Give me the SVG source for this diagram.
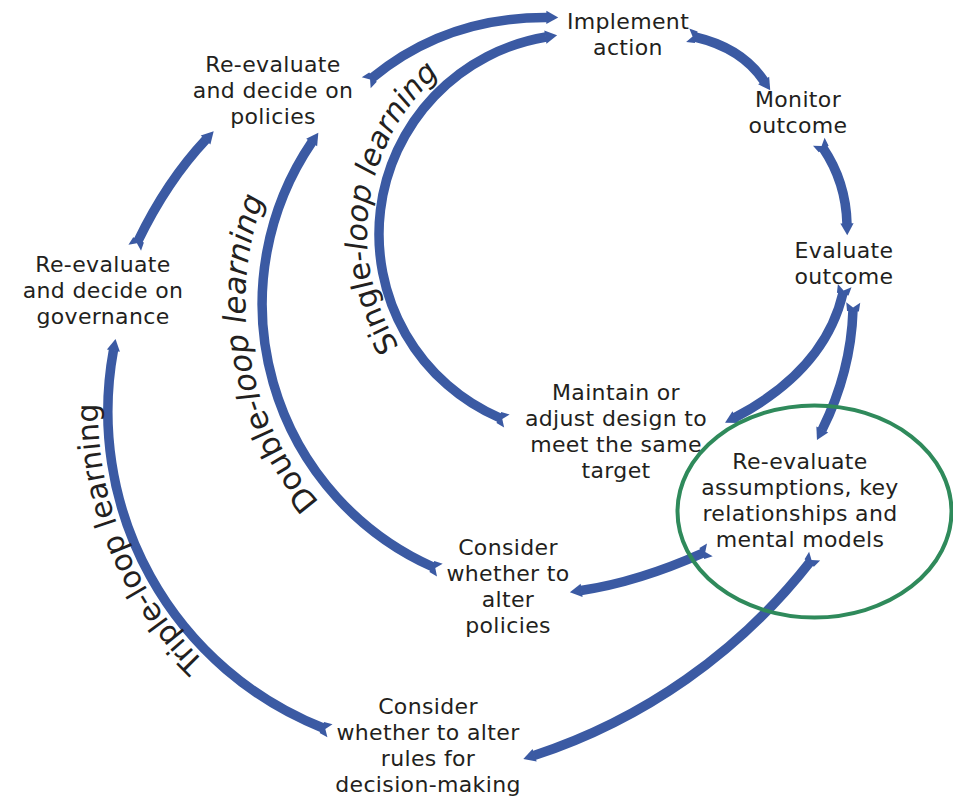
<svg xmlns="http://www.w3.org/2000/svg" width="953" height="799" viewBox="0 0 953 799">
<defs>
<style>
.n text{font-family:"DejaVu Sans","Liberation Sans",sans-serif;font-size:22px;letter-spacing:0.35px;fill:#231f20;text-anchor:middle}
.loop{font-family:"DejaVu Sans","Liberation Sans",sans-serif;font-size:30px;fill:#231f20}
.it{font-style:italic}
.arr{fill:none;stroke:#3b5aa3;stroke-width:9.5;stroke-linecap:butt;marker-start:url(#tail);marker-end:url(#head)}
</style>
<marker id="head" markerUnits="userSpaceOnUse" orient="auto" markerWidth="20" markerHeight="20" refX="0" refY="0" viewBox="-2 -8 16 16" overflow="visible">
<path d="M-0.5,-5.3 L9,0 L-0.5,5.3 Z" fill="#3b5aa3"/>
</marker>
<marker id="tail" markerUnits="userSpaceOnUse" orient="auto" markerWidth="20" markerHeight="20" refX="0" refY="0" viewBox="-10 -8 16 16" overflow="visible">
<path d="M1,-4.75 L-6,-5.6 L-2,0 L-6,5.6 L1,4.75 Z" fill="#3b5aa3"/>
</marker>
<path id="p-single" d="M399.4,346.9 A213,213 0 0 1 473.5,49.5"/>
<path id="p-double" d="M319.5,502.4 A305,305 0 0 1 273.6,175.1"/>
<path id="p-triple" d="M204.7,661.8 A350,350 0 0 1 103.3,349.2"/>
</defs>
<rect width="953" height="799" fill="#ffffff"/>

<g id="connectors">
<path id="e-policies-implement" class="arr" d="M372,78 Q446,17 547,17.5"/>
<path id="e-single-loop" class="arr" d="M500,418 A200,200 0 0 1 546,37"/>
<path id="e-implement-monitor" class="arr" d="M695,37 Q742,48 764,81"/>
<path id="e-monitor-evaluate" class="arr" d="M823,148 Q846,182 847,224"/>
<path id="e-evaluate-maintain" class="arr" d="M843,293 Q825,370 735,417.5"/>
<path id="e-evaluate-assumptions" class="arr" d="M853,310 Q851,372 822,430"/>
<path id="e-assumptions-altpolicies" class="arr" d="M703,553 Q638,582 581,590.5"/>
<path id="e-double-loop" class="arr" d="M433,567 A288,288 0 0 1 312,142"/>
<path id="e-assumptions-rules" class="arr" d="M810,562 A580,580 0 0 1 534,755.5"/>
<path id="e-triple-loop" class="arr" d="M323,728 A340,340 0 0 1 113.5,350"/>
<path id="e-governance-policies" class="arr" d="M138,241 Q167,181 206,139.5"/>
</g>

<g id="loop-labels">
<text class="loop"><textPath href="#p-single">Single-<tspan class="it">loop learning</tspan></textPath></text>
<text class="loop" style="font-size:31px"><textPath href="#p-double">Double-<tspan class="it">loop learning</tspan></textPath></text>
<text class="loop"><textPath href="#p-triple">Triple-loop learning</textPath></text>
</g>

<g id="highlight">
<ellipse cx="814.5" cy="511.5" rx="137" ry="106" fill="none" stroke="#2f8a5b" stroke-width="4"/>
</g>

<g id="implement" class="n">
<text x="628" y="29">Implement<tspan x="628" dy="26">action</tspan></text>
</g>
<g id="monitor" class="n">
<text x="798" y="107">Monitor<tspan x="798" dy="26">outcome</tspan></text>
</g>
<g id="evaluate" class="n">
<text x="844" y="258">Evaluate<tspan x="844" dy="26">outcome</tspan></text>
</g>
<g id="policies" class="n">
<text x="273" y="72">Re-evaluate<tspan x="273" dy="26">and decide on</tspan><tspan x="273" dy="26">policies</tspan></text>
</g>
<g id="governance" class="n">
<text x="103" y="272">Re-evaluate<tspan x="103" dy="26">and decide on</tspan><tspan x="103" dy="26">governance</tspan></text>
</g>
<g id="maintain" class="n">
<text x="616" y="400">Maintain or<tspan x="616" dy="26">adjust design to</tspan><tspan x="616" dy="26">meet the same</tspan><tspan x="616" dy="26">target</tspan></text>
</g>
<g id="assumptions" class="n">
<text x="800" y="469">Re-evaluate<tspan x="800" dy="26">assumptions, key</tspan><tspan x="800" dy="26">relationships and</tspan><tspan x="800" dy="26">mental models</tspan></text>
</g>
<g id="alter-policies" class="n">
<text x="508" y="555">Consider<tspan x="508" dy="26">whether to</tspan><tspan x="508" dy="26">alter</tspan><tspan x="508" dy="26">policies</tspan></text>
</g>
<g id="alter-rules" class="n">
<text x="428" y="714">Consider<tspan x="428" dy="26">whether to alter</tspan><tspan x="428" dy="26">rules for</tspan><tspan x="428" dy="26">decision-making</tspan></text>
</g>
</svg>
